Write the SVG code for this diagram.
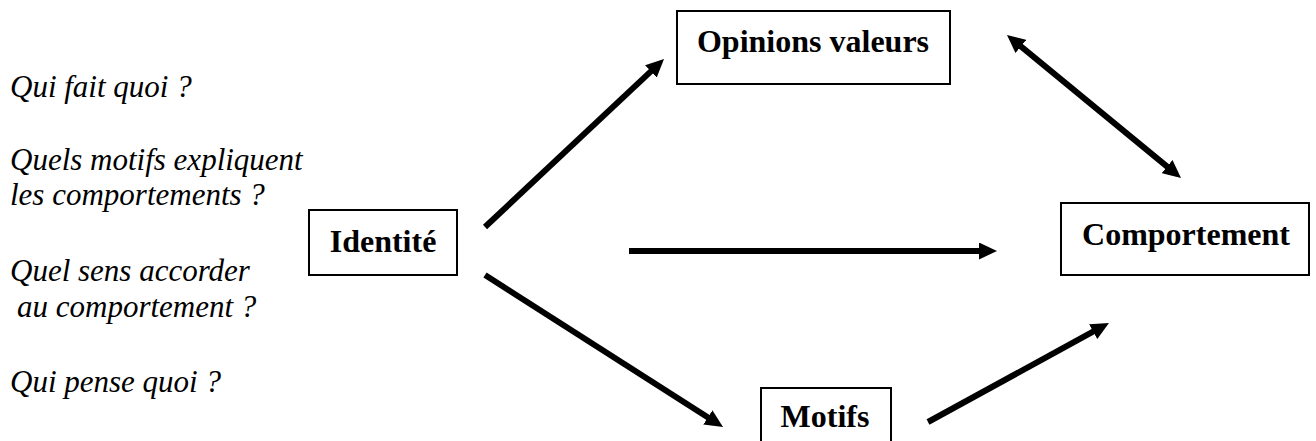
<svg xmlns="http://www.w3.org/2000/svg" width="1316" height="441" viewBox="0 0 1316 441">
<style>
.box{fill:#fff;stroke:#000;stroke-width:2}
.lbl{font-family:'Liberation Serif','DejaVu Serif',serif;font-weight:bold;font-size:32px;text-anchor:middle;fill:#000}
.q{font-family:'Liberation Serif','DejaVu Serif',serif;font-style:italic;font-size:31px;fill:#000}
.arr{stroke:#000;stroke-width:6;fill:none;marker-end:url(#ah)}
</style>
<defs>
<marker id="ah" markerUnits="userSpaceOnUse" viewBox="0 0 18 17" markerWidth="18" markerHeight="17" refX="4" refY="8.5" orient="auto-start-reverse">
<path d="M0,0 L18,8.5 L0,17 z" fill="#000"/>
</marker>
</defs>
<rect width="1316" height="441" fill="#fff"/>
<g id="questions">
<text class="q" x="10" y="97">Qui fait quoi ?</text>
<text class="q" x="10" y="170">Quels motifs expliquent</text>
<text class="q" x="10" y="205">les comportements ?</text>
<text class="q" x="10" y="281">Quel sens accorder</text>
<text class="q" x="17" y="317">au comportement ?</text>
<text class="q" x="10" y="392">Qui pense quoi ?</text>
</g>
<g id="identite">
<rect class="box" x="309" y="210" width="148" height="65"/>
<text class="lbl" x="383" y="252">Identité</text>
</g>
<g id="opinions">
<rect class="box" x="677" y="11" width="273" height="73"/>
<text class="lbl" x="813" y="52">Opinions valeurs</text>
</g>
<g id="comportement">
<rect class="box" x="1061" y="203" width="248" height="72"/>
<text class="lbl" x="1186" y="245">Comportement</text>
</g>
<g id="motifs">
<rect class="box" x="761" y="388" width="130" height="70"/>
<text class="lbl" x="825" y="427">Motifs</text>
</g>
<g id="connectors">
<line class="arr" x1="485" y1="227" x2="653.8" y2="68.6"/>
<line class="arr" x1="629" y1="251" x2="983" y2="251"/>
<line class="arr" x1="485" y1="275" x2="711.2" y2="419.5"/>
<line class="arr" x1="928" y1="422" x2="1096.7" y2="329.7"/>
<line class="arr" x1="1017.8" y1="43.9" x2="1170.2" y2="169.1" marker-start="url(#ah)"/>
</g>
</svg>
